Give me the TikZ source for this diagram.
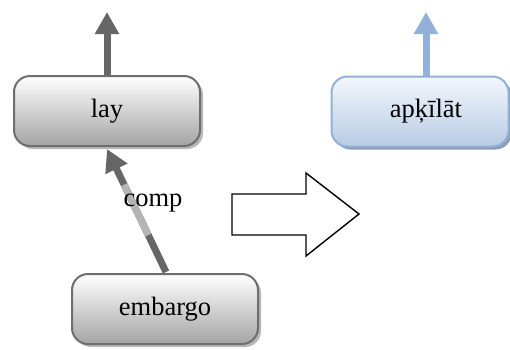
\documentclass[tikz,border=0pt]{standalone}
\usepackage{fontspec}
\setmainfont{Liberation Serif}
\usetikzlibrary{arrows.meta,shadows,calc}
\definecolor{boxgray}{HTML}{6E6E6E}
\definecolor{arrgray}{HTML}{666666}
\definecolor{lightseg}{HTML}{B4B4B4}
\definecolor{botgray}{HTML}{A4A4A4}
\definecolor{bluebord}{HTML}{93B0D8}
\definecolor{bluebot}{HTML}{B7CBE4}
\definecolor{bluetop}{HTML}{F4F7FC}
\definecolor{blueshadow}{HTML}{8D9CB3}
\begin{document}
\begin{tikzpicture}[x=1pt,y=-1pt,
  graybox/.style={draw=boxgray, line width=2pt, rounded corners=16pt,
    top color=white, bottom color=botgray,
    minimum width=186pt, minimum height=70pt, font=\fontsize{26.5}{30}\selectfont,
    drop shadow={shadow xshift=3pt, shadow yshift=-3pt, fill=black!28, opacity=1}},
  bluebox/.style={draw=bluebord, line width=2pt, rounded corners=16pt,
    top color=bluetop, bottom color=bluebot,
    minimum width=177pt, minimum height=70pt, font=\fontsize{26.5}{30}\selectfont,
    drop shadow={shadow xshift=3pt, shadow yshift=-3pt, fill=blueshadow, opacity=1}},
  grayarrow/.style={draw=arrgray, line width=7pt, -{Triangle[width=23pt,length=22pt]}},
  bluearrow/.style={draw=bluebord, line width=7pt, -{Triangle[width=23pt,length=22pt]}},
  lbl/.style={font=\fontsize{26.5}{30}\selectfont, inner sep=0pt},
  bigarrow/.style={draw=black, line width=1.4pt, fill=white, line join=miter}
]
\useasboundingbox (0,0) rectangle (510,349);
\clip (0,0) rectangle (510,349);

\node[graybox] (lay) at (107,111) {lay};
\node[graybox] (emb) at (165,309) {\raisebox{4pt}{embargo}};
\node[bluebox] (apk) at (420,111.5) {\hspace*{12pt}apķīlāt};

\coordinate (layout) at (107,12);
\coordinate (apkout) at (426,12);
\coordinate (embtop) at (166,272);
\coordinate (laybot) at (107,149);

\draw[grayarrow] (layout |- lay.north) -- (layout);
\draw[bluearrow] (apkout |- apk.north) -- (apkout);

\draw[grayarrow] (embtop) -- (laybot);
\draw[draw=lightseg, line width=7pt] ($(embtop)!0.30!(laybot)$) -- ($(embtop)!0.71!(laybot)$);
\node[lbl] (comp) at (153,203) {comp};

\draw[bigarrow] (232,194) -- (306,194) -- (306,173) -- (359,214) -- (306,256) -- (306,235) -- (232,235) -- cycle;
\end{tikzpicture}
\end{document}
